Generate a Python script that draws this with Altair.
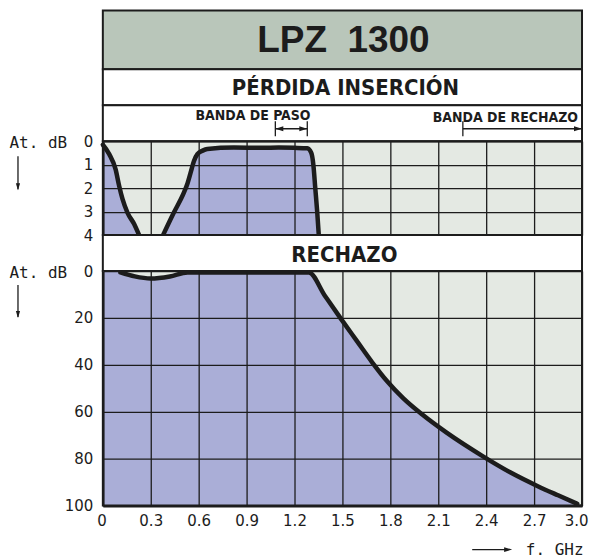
import altair as alt
import pandas as pd

# ---------------- data ----------------
freq_ticks = [0, 0.3, 0.6, 0.9, 1.2, 1.5, 1.8, 2.1, 2.4, 2.7, 3.0]
il_ticks = [0, 1, 2, 3, 4]
rej_ticks = [0, 20, 40, 60, 80, 100]

# insertion loss (dB), two visible segments
il_f1 = [0, 0.04, 0.08, 0.102, 0.123, 0.154, 0.196, 0.227]
il_db1 = [0.15, 0.55, 1.2, 1.9, 2.46, 3.04, 3.53, 4.0]
il_f2 = [0.377, 0.44, 0.508, 0.53, 0.55, 0.57, 0.592, 0.625, 0.654, 0.82,
         1.0, 1.1, 1.2, 1.28, 1.305, 1.318, 1.33, 1.342, 1.352]
il_db2 = [4.0, 3.1, 2.18, 1.8, 1.33, 0.85, 0.55, 0.4, 0.33, 0.27,
          0.28, 0.27, 0.28, 0.3, 0.5, 1.0, 2.0, 3.0, 4.0]

# rejection (dB)
rej_f = [0.11, 0.2, 0.3, 0.42, 0.53, 0.8, 1.0, 1.29, 1.39, 1.49, 1.59,
         1.685, 1.78, 1.88, 2.0, 2.15, 2.38, 2.55, 2.72, 2.85, 2.97]
rej_db = [0.6, 2.3, 3.2, 2.3, 0.6, 0.6, 0.6, 0.6, 10.5, 20.3, 29.8,
          38.8, 47.0, 54.2, 61.2, 68.8, 79.0, 85.8, 91.6, 95.6, 99.2]

title_txt = "LPZ\u00a0\u00a01300"
sub_txt = "PÉRDIDA INSERCIÓN"
rech_txt = "RECHAZO"
pass_label = "BANDA DE PASO"
stop_label = "BANDA DE RECHAZO"
pass_band = [1.08, 1.28]
stop_band = [2.254, 3.0]

# ---------------- style ----------------
INK = "#1c1c1c"
PURPLE = "#aaaed7"
BG = "#e4e9e3"
TITLE_BG = "#b9c6ba"
NARROW = "'Liberation Sans Narrow', 'Arial Narrow', 'DejaVu Sans Condensed', sans-serif"
BOLD = "'Liberation Sans', Arial, sans-serif"
LAB = "'DejaVu Sans', sans-serif"
MONO = "'DejaVu Sans Mono', monospace"
W = 480
ARR_R = "M-2,-0.6L0,0L-2,0.6Z"
ARR_L = "M2,-0.6L0,0L2,0.6Z"
ARR_D = "M-0.6,-2L0,0L0.6,-2Z"

xscale = alt.Scale(domain=[0, 3], nice=False, zero=False)
one = pd.DataFrame({"k": [0]})


def view(fill):
    return alt.ViewBackground(fill=fill, stroke=INK, strokeWidth=2)


def text_panel(txt, h, fill, size, font, y, x=W / 2):
    return (
        alt.Chart(pd.DataFrame({"t": [txt]}))
        .mark_text(font=font, fontSize=size, fontWeight="bold", color=INK,
                   align="center", baseline="middle")
        .encode(text="t:N", x=alt.value(x), y=alt.value(y))
        .properties(width=W, height=h, view=view(fill))
    )


title_panel = text_panel(title_txt, 59, TITLE_BG, 37, BOLD, 31, 241)
sub_panel = text_panel(sub_txt, 36, "white", 22, NARROW, 19, 243)

# band row
pass_txt = alt.Chart(pd.DataFrame({"t": [pass_label], "f": [0.94]})).mark_text(
    font=NARROW, fontSize=14, fontWeight="bold", color=INK, align="center", baseline="middle"
).encode(x=alt.X("f:Q", scale=xscale, axis=None), y=alt.value(11), text="t:N")
stop_txt = alt.Chart(pd.DataFrame({"t": [stop_label], "f": [2.975]})).mark_text(
    font=NARROW, fontSize=14, fontWeight="bold", color=INK, align="right", baseline="middle"
).encode(x=alt.X("f:Q", scale=xscale, axis=None), y=alt.value(13), text="t:N")
ticks_df = pd.DataFrame({"f": [pass_band[0], pass_band[1], stop_band[0]]})
band_ticks = alt.Chart(ticks_df).mark_rule(color=INK, strokeWidth=1.3).encode(
    x=alt.X("f:Q", scale=xscale, axis=None), y=alt.value(16), y2=alt.value(31))
span_df = pd.DataFrame({"f": [pass_band[0], stop_band[0]], "f2": [pass_band[1], stop_band[1]]})
band_spans = alt.Chart(span_df).mark_rule(color=INK, strokeWidth=1.3).encode(
    x=alt.X("f:Q", scale=xscale, axis=None), x2="f2:Q", y=alt.value(23.5))
heads_r = alt.Chart(pd.DataFrame({"f": [pass_band[1], stop_band[1]]})).mark_point(
    shape=ARR_R, filled=True, color=INK, size=64, opacity=1
).encode(x=alt.X("f:Q", scale=xscale, axis=None), y=alt.value(23.5))
heads_l = alt.Chart(pd.DataFrame({"f": [pass_band[0]]})).mark_point(
    shape=ARR_L, filled=True, color=INK, size=64, opacity=1
).encode(x=alt.X("f:Q", scale=xscale, axis=None), y=alt.value(23.5))
band_panel = alt.layer(pass_txt, stop_txt, band_ticks, band_spans, heads_r, heads_l).properties(
    width=W, height=36, view=view("white"))


def y_axis(values):
    return alt.Axis(values=values, grid=True, gridColor=INK, gridWidth=1.3, ticks=False,
                    domain=True, domainColor=INK, domainWidth=2.5, labelOverlap=False,
                    labelFont=LAB, labelFontSize=15, labelColor=INK, labelPadding=10,
                    title="At. dB", titleAngle=0, titleAlign="left", titleBaseline="middle",
                    titleX=-94, titleY=1, titleFont=MONO, titleFontSize=16,
                    titleFontWeight="normal", titleColor=INK, zindex=1)


def down_arrow(y1, y2):
    r = alt.Chart(one).mark_rule(color=INK, strokeWidth=1.3).encode(
        x=alt.value(-85), y=alt.value(y1), y2=alt.value(y2))
    h = alt.Chart(one).mark_point(shape=ARR_D, filled=True, color=INK, size=49, opacity=1).encode(
        x=alt.value(-85), y=alt.value(y2 + 1))
    return [r, h]


# top panel: insertion loss
il_df = pd.DataFrame({
    "f": il_f1 + il_f2,
    "db": il_db1 + il_db2,
    "seg": ["a"] * len(il_f1) + ["b"] * len(il_f2),
})
xgrid = alt.Axis(values=freq_ticks, grid=True, gridColor=INK, gridWidth=1.3, labels=False,
                 ticks=False, domain=False, title=None, zindex=1)
top_y = alt.Y("db:Q", scale=alt.Scale(domain=[0, 4], reverse=True, nice=False), axis=y_axis(il_ticks))
top_x = alt.X("f:Q", scale=xscale, axis=xgrid)
top_area = alt.Chart(il_df).mark_area(color=PURPLE, opacity=1, interpolate="monotone", clip=True).encode(
    x=top_x, y=top_y, y2=alt.datum(4), detail="seg:N",
)
top_line = alt.Chart(il_df).mark_line(color=INK, strokeWidth=4.5, interpolate="monotone",
                                      strokeCap="round", strokeJoin="round").encode(
    x=top_x, y=top_y, detail="seg:N")
top_panel = alt.layer(top_area, top_line, *down_arrow(15, 48)).properties(
    width=W, height=94, view=view(BG))

rech_panel = text_panel(rech_txt, 36, "white", 22, NARROW, 20, 242)

# bottom panel: rejection
rej_area_df = pd.DataFrame({"f": [0] + rej_f + [3.0], "db": [0] + rej_db + [100]})
rej_line_df = pd.DataFrame({"f": rej_f, "db": rej_db})
xaxis = alt.Axis(values=freq_ticks, grid=True, gridColor=INK, gridWidth=1.3, ticks=False,
                 domain=True, domainColor=INK, domainWidth=3,
                 labelExpr="datum.value == 0 ? '0' : format(datum.value, '.1f')",
                 labelFont=LAB, labelFontSize=15, labelColor=INK, labelPadding=8,
                 labelFlush=True, labelFlushOffset=6, labelOverlap=False,
                 title="f. GHz", titleAnchor="end", titleAlign="right", titleBaseline="middle",
                 titleX=481, titleY=44, titleFont=MONO, titleFontSize=16, titleFontWeight="normal",
                 titleColor=INK, zindex=1)
bot_x = alt.X("f:Q", scale=xscale, axis=xaxis)
bot_y = alt.Y("db:Q", scale=alt.Scale(domain=[0, 100], reverse=True, nice=False), axis=y_axis(rej_ticks))
bot_area = alt.Chart(rej_area_df).mark_area(color=PURPLE, opacity=1, interpolate="monotone", clip=True).encode(
    x=bot_x, y=bot_y, y2=alt.datum(100),
)
bot_line = alt.Chart(rej_line_df).mark_line(color=INK, strokeWidth=4.5, interpolate="monotone",
                                           strokeCap="round", strokeJoin="round").encode(
    x=bot_x, y=bot_y)
ghz_rule = alt.Chart(one).mark_rule(color=INK, strokeWidth=1.3).encode(
    x=alt.value(370), x2=alt.value(403), y=alt.value(279))
ghz_head = alt.Chart(one).mark_point(shape=ARR_R, filled=True, color=INK, size=64, opacity=1).encode(
    x=alt.value(410), y=alt.value(279))
bot_panel = alt.layer(bot_area, bot_line, ghz_rule, ghz_head, *down_arrow(14, 46)).properties(
    width=W, height=235, view=view(BG))

chart = alt.vconcat(title_panel, sub_panel, band_panel, top_panel, rech_panel, bot_panel,
                    spacing=0, bounds="flush").properties(
    padding={"left": 0, "top": 1, "right": 0, "bottom": 2},
    background="white",
).configure_axis(labelOverlap=False)

chart.save("out.html", embed_options={"renderer": "svg", "actions": False})
